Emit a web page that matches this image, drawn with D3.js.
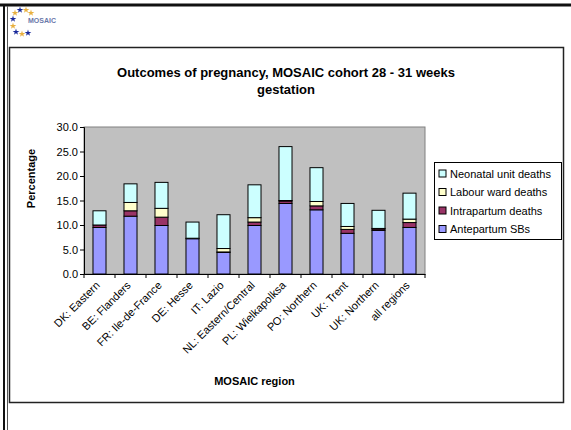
<!DOCTYPE html>
<html>
<head>
<meta charset="utf-8">
<script src="https://cdn.jsdelivr.net/npm/d3@7"></script>
<style>
  body { margin: 0; background: #fff; }
  text { font-family: "Liberation Sans", Arial, sans-serif; }
</style>
</head>
<body>
<div id="chart-area"></div>
<script>
// data
var regions = ["DK: Eastern", "BE: Flanders", "FR: Ile-de-France", "DE: Hesse", "IT: Lazio",
  "NL: Eastern/Central", "PL: Wielkapolksa", "PO: Northern", "UK: Trent", "UK: Northern", "all regions"];
var antepartum = [9.5, 11.8, 9.9, 7.2, 4.4, 9.9, 14.4, 13.1, 8.3, 8.9, 9.5];
var intrapartum = [0.5, 1.1, 1.7, 0.1, 0.1, 0.7, 0.5, 0.8, 0.8, 0.3, 1.0];
var labourWard = [0.0, 1.7, 1.8, 0.0, 0.7, 0.9, 0.1, 0.9, 0.6, 0.1, 0.7];
var neonatal = [2.9, 3.8, 5.3, 3.3, 6.9, 6.7, 11.0, 6.9, 4.7, 3.7, 5.3];
var seriesNames = ["Antepartum SBs", "Intrapartum deaths", "Labour ward deaths", "Neonatal unit deaths"];
var seriesColors = ["#9999ff", "#993366", "#ffffcc", "#ccffff"];
var yTicks = [0, 5, 10, 15, 20, 25, 30];

var W = 571, H = 430;
var margin = { left: 84, right: 146, top: 127, bottom: 156 };
var width = W - margin.left - margin.right;
var height = H - margin.top - margin.bottom;

var root = d3.select("#chart-area")
        .append("svg")
                .attr("width", W)
                .attr("height", H);

// slide frame
root.append("line").attr("x1", 0).attr("x2", W).attr("y1", 5).attr("y2", 5)
        .attr("stroke", "#111").attr("stroke-width", 3);
root.append("line").attr("x1", 4).attr("x2", 4).attr("y1", 4).attr("y2", H)
        .attr("stroke", "#111").attr("stroke-width", 2);
root.append("line").attr("x1", 7.5).attr("x2", 7.5).attr("y1", 6).attr("y2", H)
        .attr("stroke", "#555").attr("stroke-width", 1);

// little logo
var logo = root.append("g").attr("transform", "translate(25,23)");
var starPos = [[-10, -10, "#e8b040"], [-5, -13, "#1a2a9a"], [1, -13, "#e8b040"], [-12, -4, "#1a2a9a"],
  [-12, 3, "#e8b040"], [-9, 9, "#1a2a9a"], [-3, 11, "#e8b040"], [3, 10, "#1a2a9a"], [6, -10, "#e8b040"]];
var star = d3.symbol().type(d3.symbolStar).size(14);
logo.selectAll("path")
        .data(starPos)
        .enter()
        .append("path")
        .attr("d", star)
        .attr("transform", d => "translate(" + d[0] + "," + d[1] + ")")
        .attr("fill", d => d[2]);
logo.append("text")
        .attr("x", 3).attr("y", 0)
        .attr("font-size", "7px")
        .attr("font-weight", "bold")
        .attr("fill", "#6a78aa")
        .text("MOSAIC");

// chart box
root.append("rect")
        .attr("x", 9.5).attr("y", 47.5)
        .attr("width", 554).attr("height", 355)
        .attr("fill", "#fff")
        .attr("stroke", "#222")
        .attr("stroke-width", 1.5);

root.append("text")
        .attr("x", 286).attr("y", 77)
        .attr("text-anchor", "middle")
        .attr("font-size", "13px")
        .attr("font-weight", "bold")
        .text("Outcomes of pregnancy, MOSAIC cohort 28 - 31 weeks");
root.append("text")
        .attr("x", 286).attr("y", 94)
        .attr("text-anchor", "middle")
        .attr("font-size", "13px")
        .attr("font-weight", "bold")
        .text("gestation");

var svg = root.append("g")
        .attr("transform", "translate(" + margin.left + "," + margin.top + ")");

var x = d3.scaleBand()
        .domain(regions)
        .range([0, width])
        .paddingInner(0.58)
        .paddingOuter(0.29);

var xb = d3.scaleBand()
        .domain(regions)
        .range([0, width]);

var y = d3.scaleLinear()
        .domain([0, 30])
        .range([height, 0]);

svg.append("rect")
        .attr("width", width)
        .attr("height", height)
        .attr("fill", "#c0c0c0")
        .attr("stroke", "#808080");

var rows = regions.map((r, i) => ({
        region: r,
        a: antepartum[i], b: intrapartum[i], c: labourWard[i], d: neonatal[i]
}));
var stack = d3.stack().keys(["a", "b", "c", "d"])(rows);

svg.selectAll("g.layer")
        .data(stack)
        .enter()
        .append("g")
        .attr("class", "layer")
        .attr("fill", (d, i) => seriesColors[i])
        .selectAll("rect")
        .data(d => d)
        .enter()
        .append("rect")
        .attr("x", d => x(d.data.region))
        .attr("width", x.bandwidth())
        .attr("y", d => y(d[1]))
        .attr("height", d => y(d[0]) - y(d[1]))
        .attr("stroke", "#000")
        .attr("stroke-width", 1);

var yAxisCall = d3.axisLeft(y)
        .tickValues(yTicks)
        .tickSize(4)
        .tickFormat(d3.format(".1f"));
var yAxis = svg.append("g")
        .attr("class", "y-axis")
        .call(yAxisCall);
yAxis.select(".domain").attr("stroke", "#000");
yAxis.selectAll("text").attr("font-size", "11px").attr("font-family", "Liberation Sans, Arial, sans-serif").attr("x", -6);

var xAxisCall = d3.axisBottom(xb).tickSize(0).tickSizeOuter(0);
var xAxis = svg.append("g")
        .attr("class", "x-axis")
        .attr("transform", "translate(0," + height + ")")
        .call(xAxisCall);
xAxis.select(".domain").attr("stroke", "#000");
xAxis.selectAll(".tick line").remove();
xAxis.selectAll("text")
        .attr("font-size", "11px")
        .attr("font-family", "Liberation Sans, Arial, sans-serif")
        .attr("y", 0)
        .attr("x", 0)
        .attr("dy", 0)
        .attr("text-anchor", "end")
        .attr("transform", "translate(1,12) rotate(-45)");

// boundary ticks between categories
svg.selectAll("line.btick")
        .data(regions.concat(["end"]))
        .enter()
        .append("line")
        .attr("class", "btick")
        .attr("x1", (d, i) => i * xb.step())
        .attr("x2", (d, i) => i * xb.step())
        .attr("y1", height)
        .attr("y2", height + 4)
        .attr("stroke", "#000");

svg.append("text")
        .attr("x", width / 2)
        .attr("y", height + 111)
        .attr("text-anchor", "middle")
        .attr("font-size", "11px")
        .attr("font-weight", "bold")
        .text("MOSAIC region");

svg.append("text")
        .attr("x", -(height / 2) + 22)
        .attr("y", -49)
        .attr("text-anchor", "middle")
        .attr("font-size", "11px")
        .attr("font-weight", "bold")
        .attr("transform", "rotate(-90)")
        .text("Percentage");

// legend
var legend = root.append("g").attr("transform", "translate(434,162)");
legend.append("rect")
        .attr("x", 0.5).attr("y", 0.5)
        .attr("width", 127).attr("height", 77)
        .attr("fill", "#fff")
        .attr("stroke", "#000");
var order = [3, 2, 1, 0];
var li = legend.selectAll("g.item")
        .data(order)
        .enter()
        .append("g")
        .attr("class", "item")
        .attr("transform", (d, i) => "translate(5," + (8 + i * 18.5) + ")");
li.append("rect")
        .attr("width", 7).attr("height", 7)
        .attr("fill", d => seriesColors[d])
        .attr("stroke", "#000");
li.append("text")
        .attr("x", 11).attr("y", 7.5)
        .attr("font-size", "11px")
        .text(d => seriesNames[d]);
</script>
</body>
</html>
